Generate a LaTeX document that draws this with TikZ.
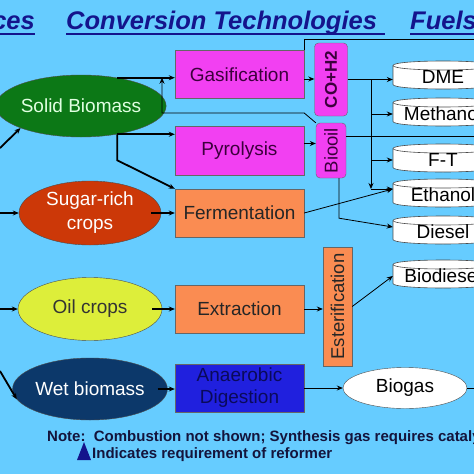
\documentclass[tikz,border=0pt]{standalone}
\usepackage{fontspec}
\setmainfont{Liberation Sans}
\usetikzlibrary{shapes.geometric,arrows.meta}

\definecolor{skyblue}{RGB}{102,204,255}
\definecolor{titleblue}{RGB}{20,20,140}
\definecolor{notenavy}{RGB}{20,20,60}
\definecolor{solidgreen}{RGB}{12,120,22}
\definecolor{solidtext}{RGB}{225,255,225}
\definecolor{sugarred}{RGB}{204,56,8}
\definecolor{oilyellow}{RGB}{221,238,58}
\definecolor{wetblue}{RGB}{12,56,106}
\definecolor{procpink}{RGB}{242,64,242}
\definecolor{pinktext}{RGB}{60,0,60}
\definecolor{procorange}{RGB}{250,140,82}
\definecolor{digblue}{RGB}{32,32,222}
\definecolor{digtext}{RGB}{10,10,90}

\begin{document}
\begin{tikzpicture}[x=1pt,y=-1pt,>={Stealth[length=6pt,width=5pt]},
    feed/.style={ellipse, draw=black!70, inner sep=0pt, align=center, font=\fontsize{19}{24}\selectfont},
    proc/.style={rectangle, draw=black!60, minimum width=129pt, minimum height=48pt, inner sep=0pt, align=center, font=\fontsize{19}{22}\selectfont},
    tag/.style={rectangle, draw=black!60, rotate=90, inner sep=0pt, font=\fontsize{18.5}{20}\selectfont},
    fuel/.style={inner sep=0pt, minimum width=100pt, font=\fontsize{19}{22}\selectfont},
    title/.style={inner sep=0pt, text=titleblue, font=\fontsize{25.5}{30}\selectfont\bfseries\itshape},
    note/.style={inner sep=0pt, text=notenavy, font=\fontsize{15}{18}\selectfont\bfseries},
    link/.style={->, line width=0.8pt},
    feedlink/.style={->, line width=1.8pt}]

    % background and frame
    \fill[skyblue] (0,0) rectangle (474,474);
    \useasboundingbox (0,0) rectangle (474,474);
    \begin{scope}
    \clip (0,0) rectangle (474,474);

    % column headings
    \node[title, anchor=base east] (src) at (35,29) {Sources};
    \node[title, anchor=base west] (conv) at (66,29) {Conversion Technologies};
    \node[title, anchor=base west] (fuels) at (410,29) {Fuels};
    \draw[titleblue, line width=1.6pt] ([yshift=-5pt]src.base west) -- ([yshift=-5pt]src.base east);
    \draw[titleblue, line width=1.6pt] ([yshift=-5pt]conv.base west) -- ([yshift=-5pt,xshift=8pt]conv.base east);
    \draw[titleblue, line width=1.6pt] ([yshift=-5pt]fuels.base west) -- ([yshift=-5pt]fuels.base east);

    % feedstocks
    \node[feed, fill=solidgreen, text=solidtext, minimum width=142pt, minimum height=62pt] (solid) at (81,106) {Solid Biomass};
    \node[feed, fill=sugarred, text=white, minimum width=142pt, minimum height=64pt] (sugar) at (90,213) {Sugar-rich\\crops};
    \node[feed, fill=oilyellow, text=black!80, minimum width=144pt, minimum height=63pt] (oil) at (90,309) {Oil crops};
    \node[feed, fill=wetblue, text=white, minimum width=142pt, minimum height=62pt] (wet) at (90,389) {Wet biomass};

    % conversion processes
    \node[proc, fill=procpink, text=pinktext] (gas) at (239.5,74.5) {Gasification};
    \node[proc, fill=procpink, text=pinktext, minimum height=49pt] (pyr) at (239.5,150.5) {Pyrolysis};
    \node[proc, fill=procorange, text=black!85] (ferm) at (239.5,213) {Fermentation};
    \node[proc, fill=procorange, text=black!85] (ext) at (239.5,309) {Extraction};
    \node[proc, fill=digblue, text=digtext] (dig) at (239.5,388) {Anaerobic\\Digestion};

    % intermediates
    \node[tag, fill=procpink, rounded corners=4pt, minimum width=73pt, minimum height=33pt, font=\fontsize{17}{20}\selectfont\bfseries, text=pinktext] (syn) at (331,79.5) {CO+H2};
    \node[tag, fill=procpink, rounded corners=4pt, minimum width=55pt, minimum height=30pt, text=pinktext] (bio) at (331,150.5) {Biooil};
    \node[tag, fill=procorange, text=black!85, minimum width=119pt, minimum height=29pt] (est) at (337.5,306.5) {Esterification};
    \node[feed, fill=white, text=black, minimum width=124pt, minimum height=41pt] (gasout) at (405,388) {Biogas};

    % fuels (drums)
    \foreach \nm/\txt/\yc in {dme/DME/77, meoh/Methanol/114, ft/F-T/160, etoh/Ethanol/195, dsl/Diesel/232, bdsl/Biodiesel/276}{
        \filldraw[fill=white, draw=black!70, line width=0.6pt] (393,\yc-11.5) -- (393,\yc+7.5) .. controls (393,\yc+13.5) and (493,\yc+13.5) .. (493,\yc+7.5) -- (493,\yc-11.5) .. controls (493,\yc-17.5) and (393,\yc-17.5) .. cycle;
        \draw[black!70, line width=0.6pt] (393,\yc-11.5) .. controls (393,\yc-5.5) and (493,\yc-5.5) .. (493,\yc-11.5);
        \node[fuel] (\nm) at (443,\yc) {\txt};
    }

    % inputs coming from the left
    \coordinate (insolid) at (0,148);
    \coordinate (insugar) at (0,213);
    \coordinate (inoil) at (0,309);
    \coordinate (inwet) at (0,371);
    \draw[feedlink] (insolid) -- (solid.200);
    \draw[feedlink] (insugar) -- (sugar.west);
    \draw[feedlink] (inoil) -- (oil.west);
    \draw[feedlink] (inwet) -- (wet.188);

    % feedstocks to processes
    \draw[feedlink] (solid.38) -- (solid.38 -| gas.west);
    \draw[feedlink] (solid.-38) -- (solid.-38 -| pyr.west);
    \draw[feedlink] (solid.-38) -- ++(0,26) -- (ferm.north west);
    \draw[feedlink] ([xshift=-10pt]sugar.east) -- (sugar.east -| ferm.west);
    \draw[feedlink] ([xshift=-10pt]oil.east) -- (oil.east -| ext.west);
    \draw[feedlink] ([xshift=-10pt]wet.east) -- (wet.east -| dig.west);

    % processes to intermediates
    \draw[link] ([yshift=-4.5pt]gas.east) -- ([yshift=-4.5pt]gas.east -| syn.north);
    \draw[link] ([yshift=7pt]pyr.east) -- ([yshift=7pt]pyr.east -| bio.north);
    \draw[link] (ext.east) -- (ext.east -| est.north);
    \draw[link] (dig.east) -- (gasout.west);

    % biooil back to gasification
    \coordinate (fb) at (162,113);
    \draw[link] (bio.north east) -- (gas.east |- fb) -- (fb) -- (fb |- solid.38);

    % intermediates to fuels
    \coordinate (bus) at (371,79.5);
    \coordinate (ethin) at ([yshift=6pt]etoh.west);
    \draw[link] (syn.south) -- (syn.south -| dme.west);
    \draw[link] (bus |- meoh.west) -- (meoh.west);
    \draw[link] (bus |- ft.west) -- (ft.west);
    \draw[link] (bus) -- (bus |- ethin);
    \draw[link] (bus |- ethin) -- (ethin);
    \draw[link] (ferm.east) -- (ethin);
    \draw[link] ([xshift=8pt]bio.west) -- ++(0,40) -- ([yshift=5pt]dsl.west);
    \draw[link] (est.south) -- (bdsl.west);

    % lines leaving to the right
    \coordinate (outh2) at (474,39);
    \coordinate (outoil) at (474,136);
    \coordinate (outgas) at (474,388);
    \draw[line width=0.8pt] (gas.north east) |- (outh2);
    \draw[line width=0.8pt] (bio.south |- outoil) -- (outoil);
    \draw[line width=0.8pt] (gasout.east) -- (outgas);

    % note
    \node[note, anchor=base west] (note1) at (47,441) {Note:\ \ Combustion not shown; Synthesis gas requires catalyst};
    \fill[titleblue] (77,460) -- (91,460) -- (84,442) -- cycle;
    \node[note, anchor=base west] (note2) at (92,458) {Indicates requirement of reformer};
    \end{scope}

\end{tikzpicture}
\end{document}
